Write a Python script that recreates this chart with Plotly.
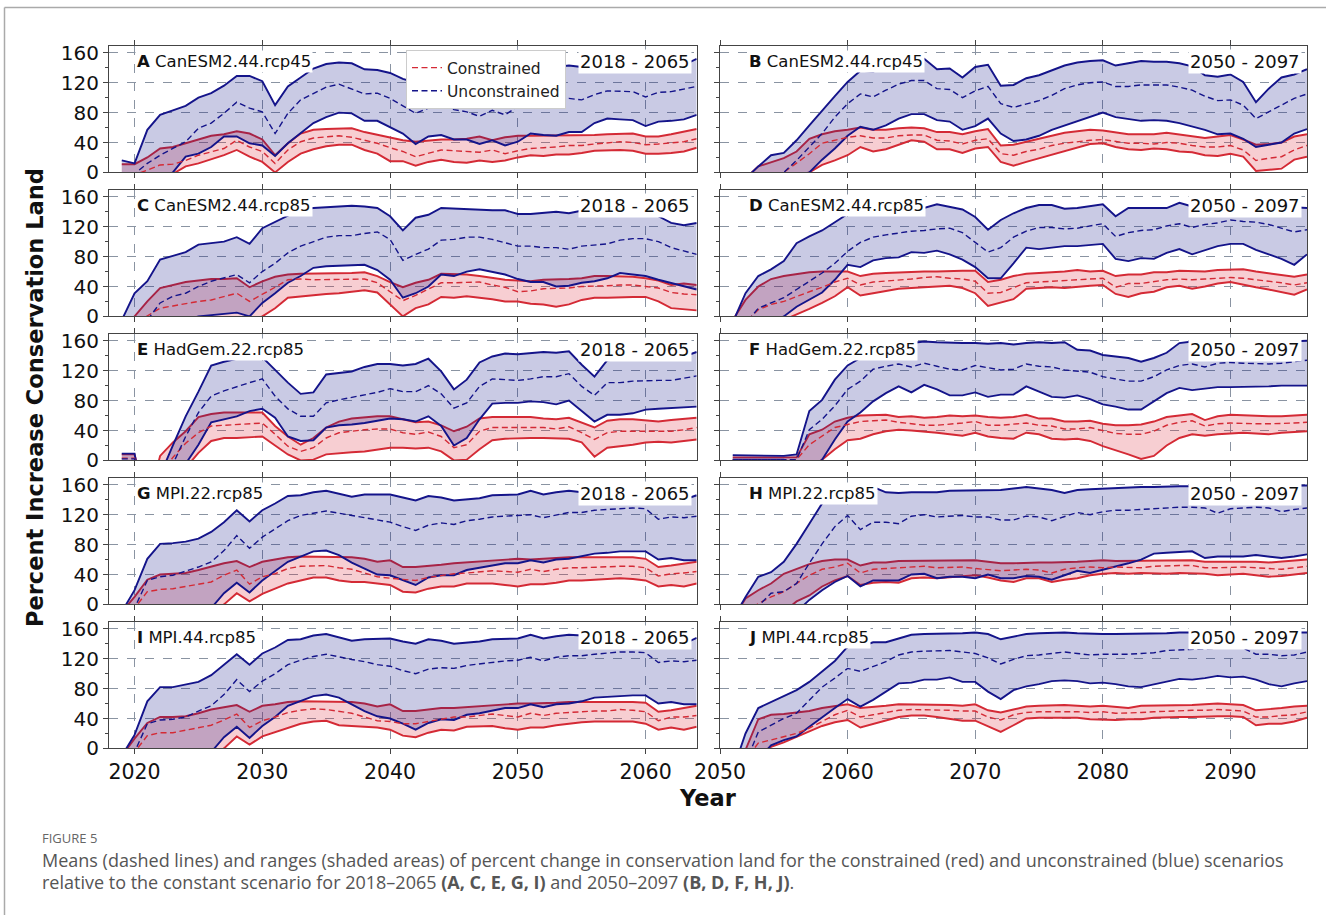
import plotly.graph_objects as go

# ---------------- data ----------------
years_left = list(range(2019, 2065))
years_right = list(range(2051, 2097))
xticks_left = [2020, 2030, 2040, 2050, 2060]
xticks_right = [2050, 2060, 2070, 2080, 2090]
yticks = [0, 40, 80, 120, 160]

# Panel A  CanESM2.44.rcp45  (2018 - 2065)
A_unc_hi = [16, 12, 57, 77, 83, 89, 100, 106, 116, 129,
            129, 122, 90, 115, 127, 139, 145, 147, 146, 138,
            137, 133, 125, 120, 128, 132, 135, 130, 138, 140,
            135, 138, 140, 142, 141, 143, 141, 140, 142, 144,
            143, 138, 140, 142, 144, 152]
A_unc_mean = [-5, -2, 12, 23, 32, 41, 59, 66, 79, 94,
              86, 81, 52, 79, 97, 106, 114, 118, 112, 105,
              106, 99, 89, 79, 86, 91, 84, 81, 75, 83,
              77, 88, 97, 94, 97, 99, 97, 104, 109, 109,
              108, 101, 107, 108, 111, 115]
A_unc_lo = [-30, -25, -20, -10, 0, 21, 25, 34, 48, 48,
            39, 36, 22, 39, 52, 66, 74, 80, 79, 69,
            69, 60, 52, 38, 48, 50, 44, 44, 38, 43,
            36, 41, 52, 50, 49, 54, 54, 66, 72, 71,
            70, 62, 68, 69, 71, 77]
A_con_hi = [11, 11, 20, 32, 34, 39, 45, 49, 51, 55,
            52, 44, 23, 39, 52, 57, 58, 59, 59, 54,
            50, 47, 43, 41, 43, 44, 44, 45, 48, 43,
            47, 49, 49, 49, 49, 50, 50, 50, 51, 52,
            52, 48, 48, 51, 55, 58]
A_con_mean = [-5, -3, 3, 10, 11, 16, 23, 28, 32, 43,
              34, 28, 12, 30, 41, 46, 47, 49, 47, 43,
              39, 33, 28, 21, 26, 30, 29, 28, 27, 30,
              25, 29, 32, 33, 34, 36, 36, 38, 40, 41,
              40, 37, 38, 39, 41, 45]
A_con_lo = [-20, -15, -10, -5, -2, 8, 12, 17, 23, 30,
            21, 14, 0, 14, 25, 31, 35, 37, 37, 30,
            25, 15, 15, 9, 14, 17, 14, 13, 16, 14,
            16, 20, 23, 22, 24, 24, 26, 29, 30, 30,
            29, 25, 25, 26, 28, 33]

# Panel C  CanESM2.44.rcp85  (2018 - 2065)
C_unc_hi = [-5, 31, 47, 76, 81, 86, 96, 98, 100, 106,
            97, 118, 126, 134, 143, 145, 146, 147, 148, 147,
            145, 134, 115, 132, 136, 145, 144, 144, 143, 142,
            142, 137, 137, 139, 140, 138, 141, 145, 146, 147,
            146, 143, 134, 125, 122, 125]
C_unc_mean = [-20, -12, -5, 18, 27, 31, 40, 47, 51, 56,
              45, 60, 71, 85, 94, 100, 106, 108, 108, 111,
              113, 103, 75, 83, 90, 102, 103, 106, 106, 103,
              99, 94, 94, 92, 92, 90, 94, 96, 97, 102,
              104, 104, 100, 92, 88, 83]
C_unc_lo = [-40, -35, -30, -20, -12, -5, 0, 2, 4, 5,
            0, 18, 31, 45, 54, 65, 67, 68, 68, 69,
            62, 49, 25, 31, 40, 56, 54, 60, 63, 60,
            56, 50, 46, 46, 40, 41, 45, 47, 51, 58,
            56, 54, 49, 45, 40, 36]
C_con_hi = [-20, 0, 20, 38, 42, 46, 48, 50, 50, 51,
            39, 47, 53, 56, 57, 57, 57, 58, 58, 59,
            54, 46, 39, 45, 49, 57, 57, 56, 54, 51,
            49, 48, 47, 49, 49, 50, 51, 54, 54, 53,
            53, 51, 48, 42, 44, 42]
C_con_mean = [-20, -10, 0, 11, 14, 17, 20, 22, 27, 31,
              20, 29, 39, 49, 50, 49, 49, 50, 50, 50,
              45, 33, 21, 28, 36, 45, 45, 46, 46, 42,
              39, 33, 34, 37, 37, 38, 40, 41, 41, 42,
              42, 40, 38, 32, 30, 29]
C_con_lo = [-40, -35, -30, -25, -20, -18, -15, -12, -10, -8,
            -5, 0, 11, 25, 27, 29, 30, 31, 33, 35,
            32, 16, 0, 11, 16, 26, 25, 27, 25, 23,
            20, 20, 17, 16, 13, 16, 22, 25, 25, 26,
            26, 26, 20, 11, 10, 8]

# Panel E  HadGem.22.rcp85  (2018 - 2065)
E_unc_hi = [9, 9, -80, -20, 20, 59, 92, 127, 132, 136,
            138, 138, 121, 104, 89, 91, 115, 117, 119, 125,
            129, 129, 127, 129, 136, 119, 95, 108, 131, 139,
            143, 142, 144, 145, 144, 146, 128, 112, 134, 136,
            137, 138, 138, 138, 139, 145]
E_unc_mean = [2, 2, -80, -40, -5, 32, 64, 86, 93, 99,
              104, 109, 86, 69, 59, 59, 77, 81, 84, 87,
              91, 96, 92, 92, 100, 89, 70, 77, 99, 109,
              108, 107, 109, 112, 112, 116, 99, 87, 104, 104,
              106, 107, 107, 107, 110, 113]
E_unc_lo = [-5, -5, -100, -60, -30, -5, 21, 51, 55, 59,
            66, 69, 57, 32, 26, 27, 44, 47, 48, 50,
            53, 56, 55, 52, 59, 46, 20, 30, 55, 76,
            77, 77, 79, 78, 75, 80, 66, 52, 61, 61,
            63, 68, 69, 70, 71, 72]
E_con_hi = [8, 8, -60, 6, 24, 39, 58, 62, 64, 64,
            64, 64, 46, 32, 21, 30, 44, 52, 56, 58,
            59, 59, 55, 51, 52, 47, 39, 45, 56, 58,
            58, 58, 58, 56, 55, 57, 51, 44, 53, 55,
            55, 54, 52, 54, 56, 57]
E_con_mean = [3, 3, -80, -20, 4, 23, 37, 46, 47, 48,
              49, 50, 35, 19, 12, 17, 30, 37, 39, 41,
              42, 42, 37, 35, 38, 32, 17, 21, 39, 44,
              44, 44, 44, 44, 42, 45, 37, 28, 37, 39,
              39, 39, 39, 39, 41, 44]
E_con_lo = [-5, -5, -100, -60, -30, -10, 10, 26, 30, 30,
            31, 32, 20, 8, 0, 1, 8, 10, 11, 12,
            15, 17, 17, 16, 17, 12, 0, 1, 15, 27,
            29, 30, 30, 30, 30, 29, 24, 5, 17, 19,
            21, 24, 25, 24, 26, 28]

# Panel G  MPI.22.rcp85  (2018 - 2065)
G_unc_hi = [-10, 19, 61, 81, 82, 84, 88, 97, 110, 126,
            111, 126, 135, 145, 146, 150, 152, 148, 144, 147,
            147, 147, 143, 139, 145, 143, 139, 140, 142, 146,
            146, 147, 152, 147, 150, 152, 150, 150, 148, 146,
            147, 148, 136, 142, 140, 146]
G_unc_mean = [-30, -5, 32, 37, 39, 44, 50, 57, 72, 92,
              75, 90, 101, 112, 119, 122, 125, 122, 119, 116,
              112, 110, 104, 99, 106, 109, 107, 112, 114, 117,
              118, 119, 120, 116, 120, 123, 123, 126, 127, 128,
              129, 128, 114, 117, 116, 118]
G_unc_lo = [-80, -70, -60, -50, -40, -30, -20, -5, 15, 29,
            16, 32, 44, 57, 64, 71, 72, 66, 56, 48,
            40, 39, 32, 26, 36, 39, 39, 46, 49, 52,
            55, 55, 59, 56, 60, 61, 64, 68, 69, 71,
            71, 71, 60, 62, 59, 59]
G_con_hi = [-10, 10, 33, 40, 41, 42, 46, 51, 55, 58,
            50, 57, 60, 63, 64, 64, 64, 64, 63, 61,
            57, 59, 50, 50, 52, 53, 55, 56, 57, 58,
            60, 61, 60, 61, 62, 63, 63, 63, 63, 64,
            63, 61, 50, 52, 55, 57]
G_con_mean = [-30, -5, 17, 20, 21, 24, 26, 30, 39, 46,
              27, 37, 41, 48, 51, 52, 52, 49, 47, 42,
              37, 35, 33, 32, 36, 39, 41, 42, 44, 45,
              44, 43, 47, 44, 47, 49, 49, 50, 50, 51,
              51, 49, 38, 41, 42, 44]
G_con_lo = [-80, -70, -60, -50, -40, -30, -20, -10, 0, 15,
            4, 14, 21, 28, 32, 36, 36, 32, 30, 30,
            28, 26, 17, 16, 21, 24, 24, 28, 28, 28,
            26, 24, 27, 27, 29, 32, 32, 33, 33, 35,
            34, 32, 24, 26, 24, 28]

# Panel I  MPI.44.rcp85  (2018 - 2065)
I_unc_hi = [-10, 18, 63, 82, 82, 85, 89, 98, 112, 126,
            112, 127, 135, 145, 146, 151, 153, 149, 144, 146,
            147, 147, 143, 140, 146, 144, 140, 141, 143, 146,
            147, 147, 152, 147, 150, 152, 151, 150, 148, 146,
            147, 148, 137, 142, 140, 148]
I_unc_mean = [-30, -5, 33, 38, 39, 42, 50, 57, 72, 92,
              76, 90, 100, 112, 118, 123, 126, 122, 119, 116,
              112, 110, 104, 100, 106, 108, 107, 111, 113, 116,
              117, 118, 122, 117, 122, 124, 124, 126, 128, 129,
              129, 128, 115, 117, 116, 118]
I_unc_lo = [-80, -70, -60, -50, -40, -30, -20, -5, 15, 29,
            14, 30, 42, 57, 63, 70, 72, 68, 59, 50,
            43, 40, 33, 25, 34, 39, 38, 45, 47, 51,
            54, 54, 59, 55, 59, 60, 63, 68, 69, 71,
            71, 71, 60, 62, 59, 59]
I_con_hi = [-10, 13, 34, 42, 42, 43, 47, 52, 55, 58,
            49, 57, 59, 62, 63, 63, 63, 63, 62, 60,
            56, 59, 50, 50, 52, 54, 54, 55, 57, 58,
            59, 60, 60, 60, 61, 62, 62, 62, 62, 63,
            62, 61, 49, 51, 54, 57]
I_con_mean = [-30, -5, 17, 21, 21, 24, 27, 31, 38, 46,
              28, 37, 42, 48, 51, 53, 52, 50, 47, 42,
              37, 36, 33, 33, 36, 40, 42, 42, 44, 46,
              44, 42, 47, 44, 47, 48, 49, 50, 50, 52,
              51, 49, 37, 42, 42, 44]
I_con_lo = [-80, -70, -60, -50, -40, -30, -20, -10, 0, 16,
            5, 16, 22, 28, 33, 36, 37, 31, 30, 30,
            28, 25, 17, 15, 21, 25, 24, 29, 29, 30,
            27, 25, 28, 28, 31, 33, 35, 36, 36, 37,
            36, 33, 25, 28, 25, 29]

# Panel B  CanESM2.44.rcp45  (2050 - 2097)
B_unc_hi = [-20, -8, 8, 23, 26, 43, 63, 83, 102, 121,
            136, 135, 141, 146, 150, 152, 138, 139, 127, 141,
            144, 116, 117, 126, 130, 137, 143, 147, 149, 150,
            143, 146, 149, 148, 148, 146, 142, 130, 128, 131,
            121, 94, 112, 127, 131, 138]
B_unc_mean = [-30, -20, -10, -3, 0, 16, 34, 52, 74, 92,
              105, 101, 110, 118, 123, 123, 112, 111, 100, 109,
              115, 92, 87, 92, 96, 103, 112, 117, 120, 121,
              115, 115, 117, 117, 117, 114, 110, 102, 96, 97,
              90, 72, 81, 90, 99, 105]
B_unc_lo = [-50, -40, -30, -20, -10, -5, 0, 17, 32, 49,
            61, 57, 63, 72, 78, 78, 70, 68, 57, 62,
            72, 52, 42, 44, 49, 57, 63, 69, 74, 80,
            74, 71, 69, 70, 69, 66, 62, 57, 51, 52,
            45, 34, 37, 40, 52, 58]
B_con_hi = [-20, -8, 8, 14, 19, 28, 45, 51, 55, 57,
            60, 57, 57, 59, 60, 59, 54, 54, 51, 55,
            58, 36, 37, 41, 45, 50, 53, 55, 57, 56,
            53, 51, 51, 51, 53, 51, 49, 46, 48, 50,
            44, 37, 38, 40, 48, 51]
B_con_mean = [-30, -20, -12, -5, 0, 12, 25, 39, 43, 47,
              49, 46, 46, 49, 50, 50, 43, 42, 38, 43,
              45, 25, 23, 28, 31, 36, 39, 41, 43, 44,
              41, 39, 39, 38, 40, 39, 36, 34, 34, 36,
              30, 16, 19, 21, 30, 36]
B_con_lo = [-50, -40, -30, -20, -12, -5, 0, 10, 16, 23,
            34, 28, 31, 37, 43, 41, 31, 31, 26, 32,
            34, 14, 9, 14, 19, 23, 29, 34, 38, 39,
            34, 31, 30, 32, 31, 28, 27, 23, 22, 25,
            21, 2, 3, 5, 17, 21]

# Panel D  CanESM2.44.rcp85  (2050 - 2097)
D_unc_hi = [-8, 31, 54, 63, 74, 98, 107, 115, 126, 137,
            148, 150, 152, 154, 155, 145, 150, 147, 143, 133,
            116, 129, 138, 145, 149, 149, 144, 145, 148, 150,
            134, 145, 145, 145, 145, 152, 147, 145, 146, 147,
            145, 146, 148, 147, 145, 145]
D_unc_mean = [-20, -10, 11, 18, 25, 36, 47, 58, 71, 87,
              99, 106, 109, 112, 114, 115, 117, 118, 112, 99,
              86, 92, 106, 114, 119, 119, 117, 118, 121, 124,
              107, 112, 115, 116, 121, 124, 119, 123, 125, 129,
              127, 126, 123, 118, 113, 116]
D_unc_lo = [-40, -30, -20, -10, 0, 13, 22, 32, 49, 69,
            66, 75, 78, 79, 86, 85, 88, 83, 76, 66,
            51, 51, 71, 92, 90, 92, 94, 94, 95, 97,
            77, 74, 78, 77, 85, 90, 83, 88, 94, 97,
            97, 89, 83, 77, 69, 83]
D_con_hi = [-5, 22, 40, 50, 54, 57, 59, 60, 60, 60,
            54, 57, 58, 59, 59, 60, 60, 61, 61, 61,
            46, 49, 54, 57, 58, 59, 60, 62, 60, 61,
            54, 56, 56, 59, 59, 61, 60, 60, 62, 63,
            63, 60, 58, 56, 53, 56]
D_con_mean = [-20, -8, 9, 16, 20, 27, 33, 39, 46, 51,
              42, 46, 47, 49, 50, 52, 53, 51, 50, 47,
              31, 32, 39, 45, 46, 47, 48, 49, 50, 51,
              39, 44, 44, 47, 49, 50, 49, 50, 51, 52,
              51, 49, 47, 45, 42, 45]
D_con_lo = [-40, -30, -20, -12, -5, 2, 10, 18, 27, 39,
            28, 31, 34, 37, 38, 39, 40, 41, 38, 31,
            14, 18, 23, 37, 38, 39, 38, 40, 41, 42,
            30, 26, 31, 33, 39, 41, 37, 40, 44, 46,
            42, 39, 36, 32, 29, 36]

# Panel F  HadGem.22.rcp85  (2050 - 2097)
F_unc_hi = [7, 7, 7, 7, 6, 8, 66, 81, 108, 127,
            137, 144, 150, 155, 157, 159, 158, 157, 157, 157,
            156, 157, 155, 157, 158, 157, 158, 148, 147, 141,
            139, 137, 132, 137, 144, 157, 159, 157, 156, 157,
            158, 157, 158, 158, 159, 160]
F_unc_mean = [1, 1, 1, 1, 1, 1, 41, 55, 73, 95,
              106, 122, 126, 129, 125, 130, 126, 122, 121, 127,
              124, 121, 122, 129, 126, 125, 121, 119, 118, 112,
              109, 106, 106, 112, 121, 127, 129, 125, 130, 131,
              130, 129, 129, 130, 132, 134]
F_unc_lo = [1, 1, 1, 1, 1, -5, -20, 1, 28, 52,
            64, 79, 90, 99, 91, 101, 95, 87, 87, 91,
            85, 88, 88, 99, 92, 85, 84, 87, 82, 75,
            72, 68, 68, 79, 90, 97, 94, 96, 98, 98,
            98, 98, 99, 100, 100, 100]
F_con_hi = [4, 4, 4, 4, 4, 4, 35, 41, 52, 57,
            60, 61, 61, 58, 59, 57, 58, 60, 59, 60,
            58, 57, 58, 61, 56, 56, 52, 52, 53, 49,
            47, 47, 48, 52, 58, 60, 62, 54, 59, 61,
            60, 59, 59, 59, 60, 61]
F_con_mean = [1, 1, 1, 1, 1, 1, 21, 32, 44, 48,
              52, 53, 54, 51, 49, 47, 47, 48, 50, 52,
              47, 47, 48, 50, 47, 46, 42, 42, 44, 40,
              36, 35, 35, 39, 47, 51, 53, 46, 49, 50,
              49, 49, 49, 49, 50, 51]
F_con_lo = [-5, -5, -5, -5, -5, -5, -10, 1, 15, 27,
            29, 35, 39, 41, 40, 39, 37, 35, 33, 37,
            32, 30, 29, 37, 35, 29, 28, 29, 26, 19,
            14, 8, 2, 6, 20, 30, 35, 33, 35, 36,
            37, 36, 35, 37, 38, 39]

# Panel H  MPI.22.rcp85  (2050 - 2097)
H_unc_hi = [-20, 10, 37, 43, 57, 81, 108, 135, 148, 155,
            158, 157, 150, 149, 150, 150, 150, 152, 152, 152,
            152, 153, 155, 157, 155, 153, 149, 153, 154, 155,
            156, 156, 157, 157, 158, 158, 158, 158, 158, 158,
            159, 159, 159, 159, 159, 159]
H_unc_mean = [-30, -15, -2, 15, 17, 28, 55, 81, 104, 119,
              100, 110, 110, 108, 118, 120, 117, 118, 119, 117,
              117, 113, 113, 118, 117, 112, 117, 123, 120, 124,
              126, 126, 127, 128, 129, 130, 130, 129, 122, 128,
              129, 130, 129, 124, 127, 129]
H_unc_lo = [-60, -50, -40, -30, -20, -10, 6, 19, 30, 38,
            24, 32, 32, 32, 40, 41, 35, 37, 37, 35,
            40, 35, 35, 38, 37, 33, 39, 45, 42, 46,
            50, 55, 60, 68, 69, 70, 71, 62, 64, 64,
            64, 66, 64, 62, 64, 67]
H_con_hi = [-20, 8, 19, 28, 41, 48, 54, 58, 60, 60,
            52, 56, 56, 58, 58, 58, 59, 59, 59, 59,
            57, 55, 55, 56, 56, 56, 57, 57, 58, 59,
            58, 58, 58, 59, 59, 58, 59, 57, 57, 58,
            57, 57, 56, 57, 58, 60]
H_con_mean = [-30, -10, 1, 10, 17, 28, 39, 47, 50, 55,
              42, 47, 48, 50, 51, 51, 49, 49, 50, 48,
              47, 45, 46, 47, 46, 42, 47, 49, 50, 49,
              50, 49, 49, 51, 52, 52, 52, 49, 49, 50,
              50, 49, 48, 47, 49, 51]
H_con_lo = [-60, -50, -40, -30, -10, 4, 12, 24, 32, 38,
            26, 29, 30, 29, 35, 36, 35, 36, 37, 39,
            36, 32, 30, 35, 35, 30, 33, 35, 39, 41,
            42, 41, 42, 41, 41, 42, 41, 41, 39, 40,
            41, 39, 37, 38, 40, 42]

# Panel J  MPI.44.rcp85  (2050 - 2097)
J_unc_hi = [-30, 20, 54, 62, 69, 78, 89, 103, 117, 136,
            136, 142, 142, 147, 152, 153, 153, 154, 154, 155,
            153, 146, 150, 153, 154, 155, 155, 154, 153, 153,
            153, 153, 154, 154, 154, 155, 155, 155, 155, 155,
            155, 155, 155, 155, 155, 155]
J_unc_mean = [-40, -20, 22, 31, 40, 47, 65, 82, 94, 107,
              103, 109, 116, 125, 129, 130, 130, 131, 129, 127,
              121, 113, 119, 124, 125, 127, 129, 127, 125, 126,
              126, 126, 127, 128, 131, 132, 132, 133, 134, 135,
              134, 126, 126, 124, 125, 129]
J_unc_lo = [-60, -40, -15, 4, 11, 16, 29, 42, 54, 66,
            56, 65, 76, 87, 88, 92, 92, 95, 89, 89,
            76, 66, 78, 83, 86, 90, 91, 90, 87, 88,
            86, 83, 82, 86, 89, 93, 92, 94, 97, 95,
            96, 92, 86, 83, 87, 90]
J_con_hi = [-40, -2, 39, 45, 46, 48, 50, 54, 57, 59,
            54, 55, 57, 59, 59, 59, 59, 58, 57, 59,
            51, 48, 52, 56, 57, 58, 58, 57, 56, 57,
            55, 54, 57, 57, 58, 58, 58, 59, 60, 59,
            58, 51, 52, 54, 56, 57]
J_con_mean = [-40, -15, 7, 11, 15, 20, 27, 36, 45, 51,
              42, 45, 48, 51, 52, 52, 52, 51, 50, 50,
              42, 38, 45, 48, 49, 49, 50, 49, 48, 49,
              47, 47, 48, 49, 50, 51, 51, 51, 52, 51,
              50, 42, 42, 44, 45, 49]
J_con_lo = [-60, -30, -8, 2, 8, 15, 23, 30, 35, 38,
            28, 33, 38, 42, 44, 44, 42, 40, 37, 37,
            30, 22, 31, 40, 41, 41, 41, 41, 39, 38,
            38, 39, 39, 41, 42, 42, 42, 43, 43, 43,
            42, 31, 33, 33, 36, 41]

panel_letters = ["A", "B", "C", "D", "E", "F", "G", "H", "I", "J"]
panel_models = ["CanESM2.44.rcp45", "CanESM2.44.rcp45", "CanESM2.44.rcp85", "CanESM2.44.rcp85",
                "HadGem.22.rcp85", "HadGem.22.rcp85", "MPI.22.rcp85", "MPI.22.rcp85",
                "MPI.44.rcp85", "MPI.44.rcp85"]
period_labels = ["2018 - 2065", "2050 - 2097"]
legend_names = ["Constrained", "Unconstrained"]

panel_data = {
    "A": (A_con_lo, A_con_hi, A_con_mean, A_unc_lo, A_unc_hi, A_unc_mean),
    "B": (B_con_lo, B_con_hi, B_con_mean, B_unc_lo, B_unc_hi, B_unc_mean),
    "C": (C_con_lo, C_con_hi, C_con_mean, C_unc_lo, C_unc_hi, C_unc_mean),
    "D": (D_con_lo, D_con_hi, D_con_mean, D_unc_lo, D_unc_hi, D_unc_mean),
    "E": (E_con_lo, E_con_hi, E_con_mean, E_unc_lo, E_unc_hi, E_unc_mean),
    "F": (F_con_lo, F_con_hi, F_con_mean, F_unc_lo, F_unc_hi, F_unc_mean),
    "G": (G_con_lo, G_con_hi, G_con_mean, G_unc_lo, G_unc_hi, G_unc_mean),
    "H": (H_con_lo, H_con_hi, H_con_mean, H_unc_lo, H_unc_hi, H_unc_mean),
    "I": (I_con_lo, I_con_hi, I_con_mean, I_unc_lo, I_unc_hi, I_unc_mean),
    "J": (J_con_lo, J_con_hi, J_con_mean, J_unc_lo, J_unc_hi, J_unc_mean),
}

# ---------------- styling ----------------
W, H = 1326, 915
RED = "#d42a35"
BLUE = "#14148a"
RED_FILL = "rgba(220,30,50,0.22)"
BLUE_FILL = "rgba(10,15,130,0.22)"
GRID = "#8a94a2"
SPINE = "#444444"
FONT = "DejaVu Sans"

col_px = [(109.0, 696.7), (720.0, 1307.0)]
row_tops = [45.7, 189.7, 333.7, 477.7, 621.7]
row_h = 126.7
xranges = [[2018, 2064], [2050, 2096]]

fig = go.Figure()
layout = dict(
    width=W, height=H, autosize=False,
    margin=dict(l=0, r=0, t=0, b=0, pad=0, autoexpand=False),
    paper_bgcolor="white", plot_bgcolor="white",
    showlegend=True,
    legend=dict(x=406 / W, y=1 - 50 / H, xanchor="left", yanchor="top",
                bgcolor="white", bordercolor="#cccccc", borderwidth=1,
                font=dict(family=FONT, size=15.5, color="#222"),
                traceorder="normal", tracegroupgap=0, itemwidth=30),
)
annotations = []

for k, letter in enumerate(panel_letters):
    idx = k + 1
    r, c = divmod(k, 2)
    xs = years_left if c == 0 else years_right
    con_lo, con_hi, con_mean, unc_lo, unc_hi, unc_mean = panel_data[letter]
    xa = "x" if idx == 1 else f"x{idx}"
    ya = "y" if idx == 1 else f"y{idx}"

    def add(y, color, width, dash="solid", fill=None, fillcolor=None, name=None, legend=False):
        fig.add_trace(go.Scatter(
            x=xs, y=y, xaxis=xa, yaxis=ya, mode="lines",
            line=dict(color=color, width=width, dash=dash),
            fill=fill if fill else "none", fillcolor=fillcolor,
            name=name, showlegend=legend, hoverinfo="skip"))

    add(con_lo, RED, 1.9)
    add(con_hi, RED, 1.9, fill="tonexty", fillcolor=RED_FILL)
    add(unc_lo, BLUE, 1.9)
    add(unc_hi, BLUE, 1.9, fill="tonexty", fillcolor=BLUE_FILL)
    add(con_mean, RED, 1.4, dash="6px,3.5px", name=legend_names[0], legend=(k == 0))
    add(unc_mean, BLUE, 1.4, dash="6px,3.5px", name=legend_names[1], legend=(k == 0))

    x0p, x1p = col_px[c]
    top = row_tops[r]
    bot = top + row_h
    bottom_row = (r == 4)
    layout["xaxis" if idx == 1 else f"xaxis{idx}"] = dict(
        domain=[x0p / W, x1p / W], anchor=ya, range=xranges[c], automargin=False,
        tickmode="array", tickvals=(xticks_left if c == 0 else xticks_right),
        showticklabels=bottom_row, ticks="outside", ticklen=5, tickcolor=SPINE,
        showline=True, linecolor=SPINE, linewidth=1, mirror="ticks",
        showgrid=True, gridcolor=GRID, griddash="dash", gridwidth=1,
        zeroline=False, tickfont=dict(family=FONT, size=20.5, color="#111"),
    )
    layout["yaxis" if idx == 1 else f"yaxis{idx}"] = dict(
        domain=[1 - bot / H, 1 - top / H], anchor=xa, range=[0, 169.5], automargin=False,
        tickmode="array", tickvals=yticks, showticklabels=(c == 0),
        ticks="outside", ticklen=5, tickcolor=SPINE,
        minor=dict(tickmode="linear", tick0=0, dtick=20, ticks="outside",
                   ticklen=3, tickcolor=SPINE, showgrid=False),
        showline=True, linecolor=SPINE, linewidth=1, mirror=True,
        showgrid=True, gridcolor=GRID, griddash="dash", gridwidth=1,
        zeroline=False, tickfont=dict(family=FONT, size=20, color="#111"),
    )

    # panel label (white box) and period label (white box)
    annotations.append(dict(
        xref=xa, yref=ya, x=(2020.0 if c == 0 else 2052.1), y=149,
        xanchor="left", yanchor="middle", showarrow=False,
        text=f"<b>{letter}</b> {panel_models[k]}",
        font=dict(family=FONT, size=16.5, color="#111"),
        bgcolor="white", borderpad=1))
    annotations.append(dict(
        xref=xa, yref=ya, x=(2063.6 if c == 0 else 2095.6), y=149,
        xanchor="right", yanchor="middle", showarrow=False,
        text=period_labels[c],
        font=dict(family=FONT, size=18, color="#111"),
        bgcolor="white", borderpad=1))

# axis titles
annotations.append(dict(xref="paper", yref="paper", x=35 / W, y=1 - 398 / H,
                        text="<b>Percent Increase Conservation Land</b>", textangle=-90,
                        showarrow=False, xanchor="center", yanchor="middle",
                        font=dict(family=FONT, size=22.5, color="#111")))
annotations.append(dict(xref="paper", yref="paper", x=708 / W, y=1 - 798 / H,
                        text="<b>Year</b>", showarrow=False, xanchor="center", yanchor="middle",
                        font=dict(family=FONT, size=22.5, color="#111")))

# caption
CAP_FONT = "Open Sans"
annotations.append(dict(xref="paper", yref="paper", x=40 / W, y=1 - 838 / H,
                        text="FIGURE 5", showarrow=False, xanchor="left", yanchor="middle",
                        font=dict(family=CAP_FONT, size=13, color="#666")))
annotations.append(dict(xref="paper", yref="paper", x=40 / W, y=1 - 860 / H,
                        text="Means (dashed lines) and ranges (shaded areas) of percent change in conservation land for the constrained (red) and unconstrained (blue) scenarios",
                        showarrow=False, xanchor="left", yanchor="middle",
                        font=dict(family=CAP_FONT, size=18, color="#555")))
annotations.append(dict(xref="paper", yref="paper", x=40 / W, y=1 - 882 / H,
                        text="relative to the constant scenario for 2018\u20132065 <b>(A, C, E, G, I)</b> and 2050\u20132097 <b>(B, D, F, H, J)</b>.",
                        showarrow=False, xanchor="left", yanchor="middle",
                        font=dict(family=CAP_FONT, size=18, color="#555")))

layout["annotations"] = annotations
layout["shapes"] = [
    dict(type="line", xref="paper", yref="paper", x0=4.5 / W, x1=1.0, y0=1 - 7.5 / H, y1=1 - 7.5 / H,
         line=dict(color="#aaaaaa", width=1.5)),
    dict(type="line", xref="paper", yref="paper", x0=4.5 / W, x1=4.5 / W, y0=0, y1=1 - 7.5 / H,
         line=dict(color="#aaaaaa", width=1.5)),
]
fig.update_layout(**layout)
fig.write_html("out.html")
